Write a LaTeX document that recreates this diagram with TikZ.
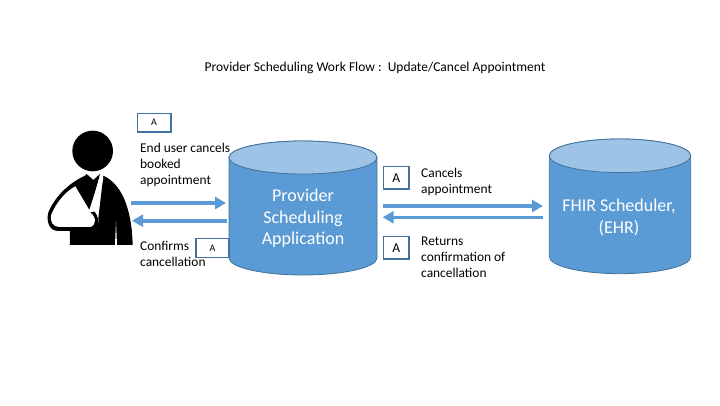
\documentclass[tikz,border=0pt]{standalone}
\usepackage{fontspec}
\setmainfont{Carlito}
\usetikzlibrary{arrows.meta}
\definecolor{acc}{HTML}{5B9BD5}
\definecolor{acclight}{HTML}{9DC3E6}
\definecolor{edge}{HTML}{41719C}
\definecolor{boxedge}{HTML}{41719C}
\tikzset{
  flow/.style={draw=acc,line width=3.6pt,-{Triangle[length=11pt,width=12pt,fill=acc]},shorten >=0pt},
  abox/.style={draw=boxedge,line width=1.5pt,fill=white,inner sep=0pt,anchor=north west,font=\fontsize{10}{12}\selectfont},
  aboxbig/.style={abox,font=\fontsize{13.5}{16}\selectfont},
  lbl/.style={inner sep=0pt,anchor=north west,align=left,font=\fontsize{13.4}{16}\selectfont,text=black},
  cyltext/.style={inner sep=0pt,anchor=north,align=center,font=\fontsize{18}{21.7}\selectfont,text=white},
  cylside/.style={fill=acc,draw=edge,line width=0.8pt},
  cyltop/.style={fill=acclight,draw=edge,line width=0.8pt},
}
\begin{document}
\begin{tikzpicture}[x=1pt,y=-1pt]
\useasboundingbox (0,0) rectangle (720,405);
\fill[white] (0,0) rectangle (720,405);
% title
\node[inner sep=0pt,anchor=base,font=\fontsize{13.5}{16}\selectfont] (title) at (375,71) {Provider Scheduling Work Flow :\ \ Update/Cancel Appointment};
% cylinder 1
\draw[cylside] (229,157.5) -- (229,258) arc[start angle=180,end angle=360,x radius=74,y radius=-17] -- (377,157.5) arc[start angle=0,end angle=180,x radius=74,y radius=-16.5] -- cycle;
\draw[cyltop] (303,157.5) ellipse[x radius=74,y radius=16.5];
% cylinder 2
\draw[cylside] (549.3,155.8) -- (549.3,256.7) arc[start angle=180,end angle=360,x radius=70.7,y radius=-17] -- (690.7,155.8) arc[start angle=0,end angle=180,x radius=70.7,y radius=-16.8] -- cycle;
\draw[cyltop] (620,155.8) ellipse[x radius=70.7,y radius=16.8];
\node[cyltext] (app) at (303,188.7) {Provider\\Scheduling\\Application};
\node[cyltext] (ehr) at (619,199) {FHIR Scheduler,\\(EHR)};
% person
\begin{scope}[shift={(40,125)},x=0.3333pt,y=-0.3333pt]
\fill[black] (158,78) circle[radius=61];
\fill[black] (90,360) -- (90,318) -- (150,318) .. controls (165,318) and (178,305) .. (175,280) -- (190,152) .. controls (240,175) and (275,240) .. (278,360) -- cycle;
\fill[black] (140,147) -- (160,165) -- (180,147) -- (150,262) -- (106,180) -- cycle;
\fill[black] (135,152) .. controls (85,175) and (45,215) .. (25,262) .. controls (18,290) and (28,318) .. (55,318) -- (155,318) .. controls (178,315) and (180,280) .. (165,262) -- (120,200) -- cycle;
\fill[white] (106,184) .. controls (75,200) and (48,235) .. (34,268) .. controls (28,290) and (40,306) .. (58,306) -- (150,306) .. controls (170,302) and (170,275) .. (150,262) -- (170,258) -- (190,158) -- (181,152) -- (148,255) -- cycle;
\fill[white] (228,288) -- (231,360) -- (225,360) -- cycle;
\end{scope}
% coordinates
\coordinate (a1) at (131,203);
\coordinate (a2) at (226,203);
\coordinate (b1) at (227,220.7);
\coordinate (b2) at (132,220.7);
\coordinate (c1) at (382.7,206);
\coordinate (c2) at (543,206);
\coordinate (d1) at (542.7,217.3);
\coordinate (d2) at (382.7,217.3);
\draw[flow] (a1) -- (a2);
\draw[flow] (b1) -- (b2);
\draw[flow] (c1) -- (c2);
\draw[flow] (d1) -- (d2);
% labels
\node[lbl] (l1) at (140,142.6) {End user cancels\\booked\\appointment};
\node[lbl] (l2) at (140,240.6) {Confirms\\cancellation};
\node[lbl] (l3) at (421,168.3) {Cancels\\appointment};
\node[lbl] (l4) at (421,236.6) {Returns\\confirmation of\\cancellation};
% A boxes
\node[abox,minimum width=33.3pt,minimum height=18.3pt] (A1) at (136.7,112.7) {A};
\node[abox,minimum width=33.3pt,minimum height=19pt] (A2) at (195,237.7) {A};
\node[aboxbig,minimum width=25.6pt,minimum height=22.6pt] (A3) at (382.7,165.7) {A};
\node[aboxbig,minimum width=25.6pt,minimum height=22.6pt] (A4) at (382.7,235.7) {A};
\end{tikzpicture}
\end{document}
